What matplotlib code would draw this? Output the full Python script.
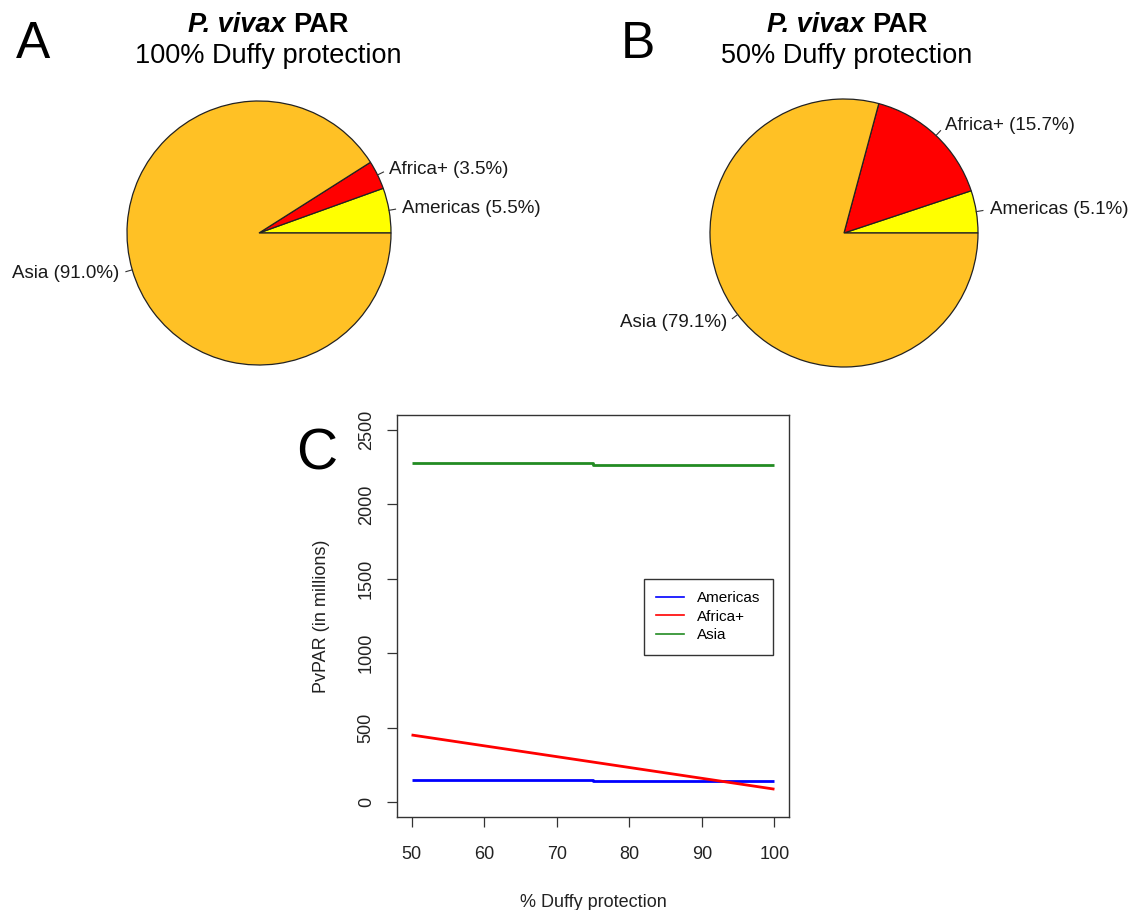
import matplotlib
matplotlib.use("Agg")
import matplotlib.pyplot as plt
import numpy as np
from matplotlib.lines import Line2D
from matplotlib.transforms import IdentityTransform

plt.rcParams['font.family'] = ['Liberation Sans', 'DejaVu Sans']

# ---------------- data ----------------
pie_regions = ["Americas", "Africa+", "Asia"]
pie_colors = ["#FFFF00", "#FF0000", "#FFC125"]
pie_a_values = [5.5, 3.5, 91.0]
pie_b_values = [5.1, 15.7, 79.1]
pie_a_subtitle = "100% Duffy protection"
pie_b_subtitle = "50% Duffy protection"

protection = [50, 75, 75, 100]
americas = [147, 147, 140, 140]
africa = [451, 269, 269, 87]
asia = [2275, 2275, 2266, 2266]
line_series = ["Americas", "Africa+", "Asia"]
line_colors = ["#0000FF", "#FF0000", "#228B22"]
x_ticks = [50, 60, 70, 80, 90, 100]
y_ticks = [0, 500, 1000, 1500, 2000, 2500]

W, H = 1143, 910
fig = plt.figure(figsize=(W / 100, H / 100), dpi=100)


def px_axes(cx, cy, half):
    return fig.add_axes([(cx - half) / W, 1 - (cy + half) / H, 2 * half / W, 2 * half / H])


def draw_pie(cx, cy, r, values, letter, letter_x, subtitle, title_cx):
    half = 200
    ax = px_axes(cx, cy, half)
    labels = [f"{n} ({v:.1f}%)" for n, v in zip(pie_regions, values)]
    wedges, texts = ax.pie(values, colors=pie_colors, startangle=0, counterclock=True,
                           labels=labels, labeldistance=1.1, radius=1,
                           wedgeprops=dict(edgecolor="#222222", linewidth=0.9),
                           textprops=dict(fontsize=13.5, color="#1a1a1a"))
    for w in wedges:
        th = np.deg2rad((w.theta1 + w.theta2) / 2)
        ax.plot([np.cos(th), 1.05 * np.cos(th)], [np.sin(th), 1.05 * np.sin(th)],
                color="#333333", lw=0.8)
    lim = half / r
    ax.set_xlim(-lim, lim)
    ax.set_ylim(-lim, lim)
    ax.set_aspect("equal", adjustable="box")
    ax.axis("off")

    # titles
    tr = IdentityTransform()
    fs = 19.5
    renderer = fig.canvas.get_renderer()
    t1 = fig.text(0, H - 32, "P. vivax", fontsize=fs, fontweight="bold", fontstyle="italic",
                  transform=tr, va="baseline", ha="left")
    t2 = fig.text(0, H - 32, "PAR", fontsize=fs, fontweight="bold",
                  transform=tr, va="baseline", ha="left")
    w1 = t1.get_window_extent(renderer).width
    w2 = t2.get_window_extent(renderer).width
    sp = 0.278 * fs * 100 / 72
    x0 = title_cx - (w1 + sp + w2) / 2
    t1.set_x(x0)
    t2.set_x(x0 + w1 + sp)
    fig.text(title_cx, H - 63, subtitle, fontsize=fs, transform=tr, va="baseline", ha="center")
    fig.text(letter_x, H - 58, letter, fontsize=37, transform=tr, va="baseline", ha="left")


draw_pie(259, 233, 132, pie_a_values, "A", 16, pie_a_subtitle, 268)
draw_pie(844, 233, 134, pie_b_values, "B", 621, pie_b_subtitle, 847)

# ---------------- line chart ----------------
l, r_, t, b = 397, 789, 415, 817
ax = fig.add_axes([l / W, 1 - b / H, (r_ - l) / W, (b - t) / H])
for vals, c, n in zip([americas, africa, asia], line_colors, line_series):
    ax.plot(protection, vals, color=c, lw=2.0, solid_capstyle="butt", label=n)
ax.set_xlim(48, 102)
ax.set_ylim(-100, 2600)
ax.set_xticks(x_ticks)
ax.set_yticks(y_ticks)
ax.tick_params(axis="both", direction="out", length=7, width=0.9, colors="#333333",
               labelsize=13, labelcolor="#222222")
ax.tick_params(axis="x", pad=14)
ax.tick_params(axis="y", pad=9)
for lab in ax.get_yticklabels():
    lab.set_rotation(90)
    lab.set_va("center")
for s in ax.spines.values():
    s.set_color("#333333")
    s.set_linewidth(1.0)
ax.set_xlabel("% Duffy protection", fontsize=13, color="#222222", labelpad=22)
ax.set_ylabel("PvPAR (in millions)", fontsize=13, color="#222222", labelpad=20)

handles = [Line2D([], [], color=c, lw=1.2) for c in line_colors]
leg = ax.legend(handles, line_series, loc="upper left", bbox_to_anchor=(0.630, 0.592),
                borderaxespad=0, fontsize=11, frameon=True, fancybox=False, shadow=False,
                handlelength=1.85, handletextpad=0.85, borderpad=0.8, labelspacing=0.3)
leg.get_frame().set_edgecolor("black")
leg.get_frame().set_linewidth(1.0)

fig.text(296 / W, 1 - 455 / H, "C", fontsize=41, va="center", ha="left")

fig.savefig("out.png", dpi=100)
